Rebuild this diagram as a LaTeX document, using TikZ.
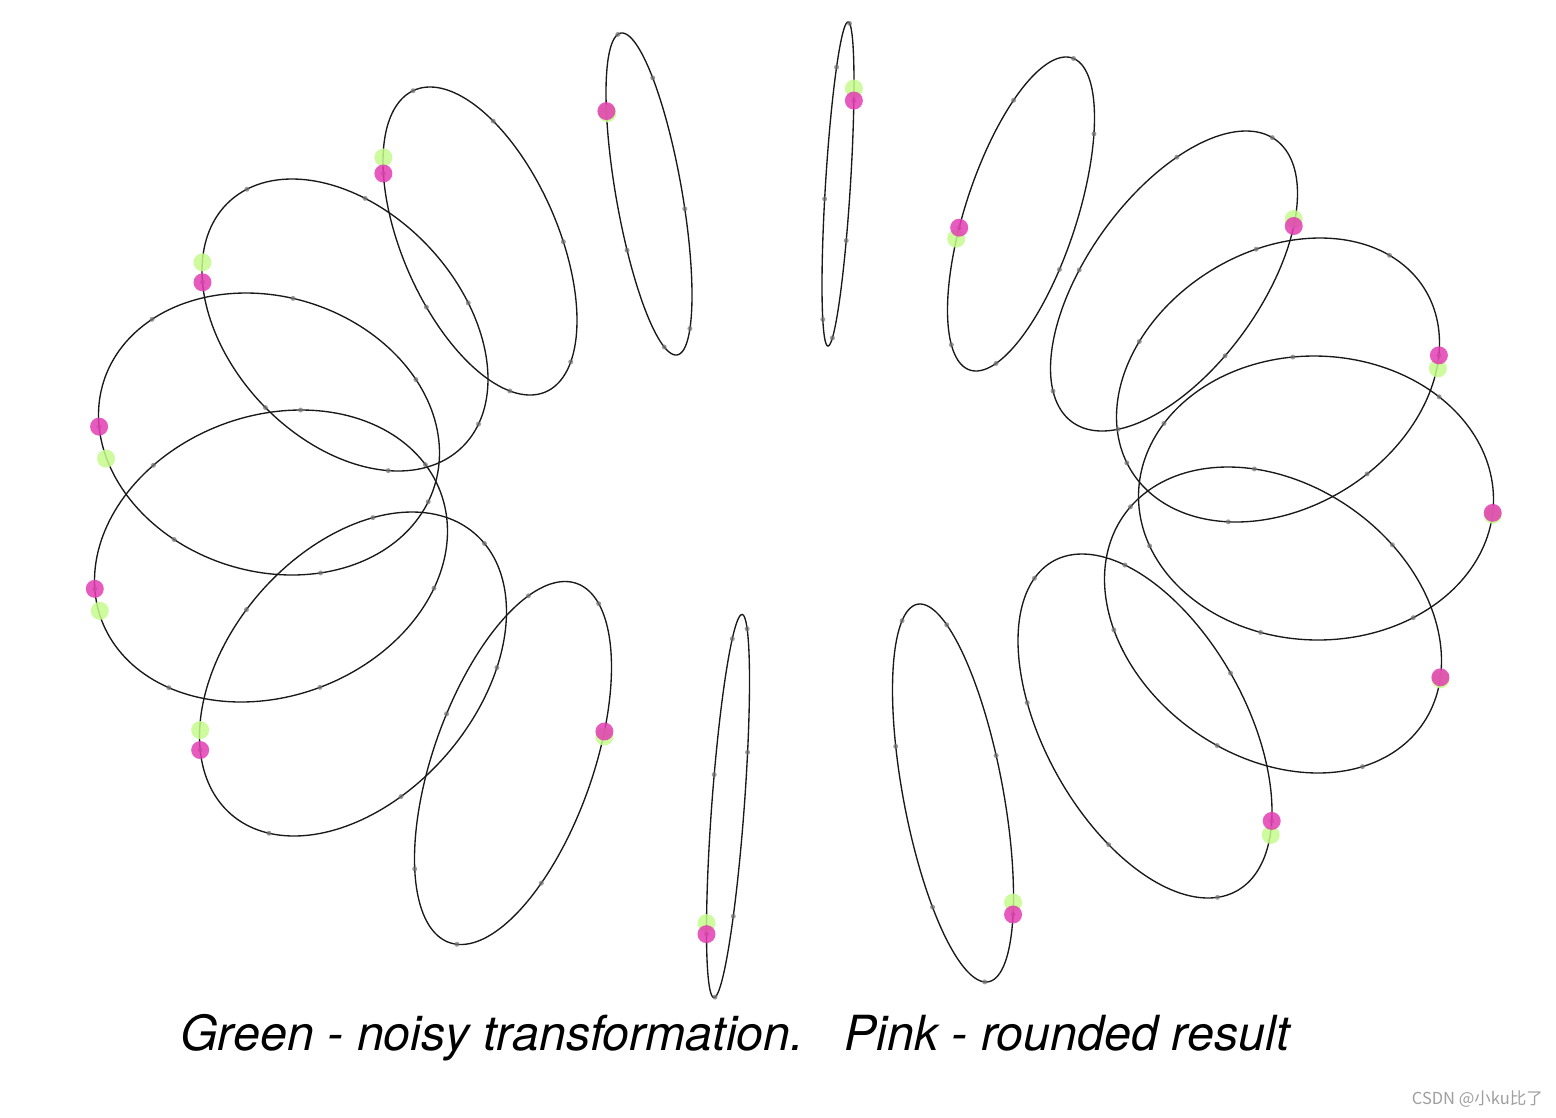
\documentclass[tikz,border=0pt]{standalone}
\usepackage{fontspec}
\usepackage{tikz}
\usetikzlibrary{
  calc
}
\newfontfamily\heros{TeX Gyre Heros}
\newfontfamily\cjk{Noto Sans CJK SC}
\definecolor{pinkdotc}{RGB}{226,62,178}
\definecolor{greendotc}{RGB}{196,250,140}

% one projected ring: centre, top offset, half height, half width,
% angle of the tracked point, shift of the noisy point
\newcommand{\drawring}[8]{%
  \pgfmathsetmacro{\hw}{(#5)*sqrt(1-((#3)/(#5))^2)}%
  \draw[ringline] plot[domain=0:360, samples=181, variable=\t]
    ({#1+\hw*cos(\t)+(#3)*sin(\t)}, {#2-(#4)*sin(\t)}) -- cycle;
  \foreach \k in {0,...,6}{
    \pgfmathsetmacro{\ang}{#6+\k*360/7}
    \fill[greydot] ({#1+\hw*cos(\ang)+(#3)*sin(\ang)}, {#2-(#4)*sin(\ang)}) circle (2.5pt);
  }
  \coordinate (pk) at ({#1+\hw*cos(#6)+(#3)*sin(#6)}, {#2-(#4)*sin(#6)});
  \fill[greendot] ($(pk)+(#7,#8)$) circle (9pt);
  \fill[pinkdot] (pk) circle (9pt);
}

\begin{document}
\begin{tikzpicture}[
  x=1pt,
  y=-1pt,
  ringline/.style={
    draw=black!90,
    line width=1.35pt
  },
  greydot/.style={
    fill=black!55,
    fill opacity=0.7
  },
  greendot/.style={
    fill=greendotc,
    fill opacity=0.85
  },
  pinkdot/.style={
    fill=pinkdotc,
    fill opacity=0.85
  },
  caption/.style={
    font=\fontsize{48.4}{48.4}\selectfont\heros\itshape,
    inner sep=0pt
  },
  credittext/.style={
    font=\fontsize{16.5}{16.5}\selectfont\cjk,
    text=black!38,
    inner sep=0pt
  }
]
\useasboundingbox (0,0) rectangle (1556,1117);

% Top half of the turn
\drawring{838}{184}{10}{162}{16}{31}{0}{-12}
\drawring{649}{194}{-27}{161}{43}{149}{1}{2}
\drawring{480}{241}{-50}{154}{97}{154}{0}{-16}
\drawring{345}{325}{-53}{146}{143}{163}{0}{-20}
\drawring{269}{434}{-23}{141}{170.5}{177}{7}{32}
\drawring{271}{556}{30}{146}{176.5}{193}{5}{22}
\drawring{353}{674}{59}{162}{153.5}{208}{0}{-20}
\drawring{513}{763}{52}{181.5}{98.5}{10}{0}{5}

% Bottom half of the turn
\drawring{728}{806}{14}{191.5}{21.5}{222}{0}{-11}
\drawring{953}{793}{-33}{189}{60.5}{320}{0}{-12}
\drawring{1145}{726}{-63}{172}{127}{326.5}{-1}{14}
\drawring{1273}{620}{-45}{153}{168.5}{338}{0}{2}
\drawring{1316}{498}{-2}{142}{177.5}{354}{0}{2}
\drawring{1278}{380}{42}{142}{161.5}{10}{-1}{13}
\drawring{1174}{281}{72}{150}{123.5}{21.5}{0}{-7}
\drawring{1021}{214}{45}{157}{73.5}{185}{-3}{11}

% Labels
\node[caption, anchor=base west] (legend) at (180,1050)
  {Green - noisy transformation.~~~Pink - rounded result};
\node[credittext, anchor=east] (credit) at (1543,1099) {CSDN @小ku比了};

\end{tikzpicture}
\end{document}
